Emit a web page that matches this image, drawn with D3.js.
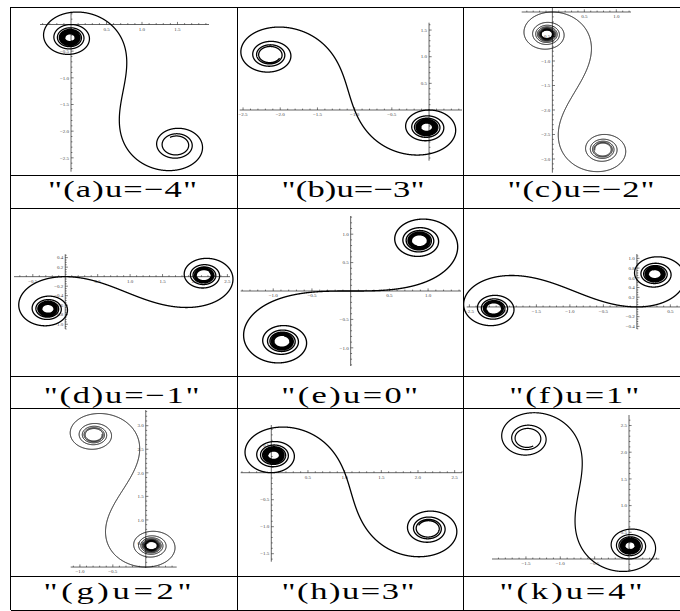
<!DOCTYPE html>
<html>
<head>
<meta charset="utf-8">
<script src="https://cdn.jsdelivr.net/npm/d3@7"></script>
<style>
  body { margin: 0; background: #fff; }
  svg { display: block; }
</style>
</head>
<body>
<svg id="fig" width="680" height="611"></svg>
<script>
// Generalised clothoid: heading angle theta(s) = s^2/2 + u*s, started at the origin
const uValues   = [-4, -3, -2, -1, 0, 1, 2, 3, 4];
const panelTags = ["a", "b", "c", "d", "e", "f", "g", "h", "k"];
const arcRange  = [-10, 10];

// Plot ranges (axis extents) of each panel
const xDomains = [
  [-0.437, 1.944], [-2.545, 0.443], [-0.48, 1.23],
  [-0.79, 2.54],   [-1.42, 1.425],  [-2.54, 0.79],
  [-1.14, 0.47],   [-0.417, 2.6],   [-1.994, 0.441]
];
const yDomains = [
  [-2.76, 0.24],   [-0.951, 1.638], [-3.28, 0.096],
  [-1.10, 0.47],   [-1.32, 1.32],   [-0.454, 1.09],
  [-0.02, 3.333],  [-1.648, 0.883], [-0.238, 2.697]
];
// Major tick spacing on each axis
const xTickSteps = [0.5, 0.5, 0.5, 0.5, 0.5, 0.5, 0.5, 0.5, 0.5];
const yTickSteps = [0.5, 0.5, 0.5, 0.2, 0.5, 0.2, 0.5, 0.5, 0.5];

// ---- page layout ----
const colEdges = [10.5, 237, 463];
const rowEdges = [7, 175, 208, 376, 408, 576, 610];
const rightEdge = 680;
const labelBaselines = [197, 403, 599];
// pixel box [left, top, right, bottom] spanned by each panel's axes
const plotBoxes = [
  [40, 11.7, 209, 171.7],   [239.7, 22.7, 462, 160.7], [521.7, 7.3, 631, 172.7],
  [14, 254.3, 230, 329],    [240.7, 216, 461, 366],    [466.7, 254, 689.8, 329],
  [70.7, 410, 176.7, 568],  [240.7, 425, 462, 561.7],  [492, 415, 659.3, 571.7]
];
const labelCenters = [122.5, 353, 581, 121.7, 349.7, 574.3, 117.5, 348, 571];
const labelWidths  = [149, 143, 147, 156, 137, 130, 148, 133, 143];
const labelStretch = 1.5;
const curveWidths  = [1.25, 1.3, 1.0, 1.3, 1.35, 1.3, 1.0, 1.3, 1.2];

const svg = d3.select("#fig");
const minus = s => s.replace("-", "\u2212");
const fmt = v => minus(d3.format(".1f")(v));

// integrate the curve outwards from s = 0 in both directions
function clothoid(u) {
  const ds = 0.002;
  const theta = s => s * s / 2 + u * s;
  const fwd = [[0, 0]], bwd = [];
  let x = 0, y = 0;
  const n = Math.round(arcRange[1] / ds);
  for (let i = 0; i < n; i++) {
    const sm = (i + 0.5) * ds;
    x += ds * Math.cos(theta(sm));
    y += ds * Math.sin(theta(sm));
    fwd.push([x, y]);
  }
  x = 0; y = 0;
  const m = Math.round(-arcRange[0] / ds);
  for (let i = 0; i < m; i++) {
    const sm = -(i + 0.5) * ds;
    x -= ds * Math.cos(theta(sm));
    y -= ds * Math.sin(theta(sm));
    bwd.push([x, y]);
  }
  return bwd.reverse().concat(fwd);
}

const defs = svg.append("defs");
const cellRight = c => (c < 2 ? colEdges[c + 1] : rightEdge);

uValues.forEach((u, i) => {
  const col = i % 3, row = Math.floor(i / 3);
  const [bl, bt, br, bb] = plotBoxes[i];
  const x = d3.scaleLinear().domain(xDomains[i]).range([bl, br]);
  const y = d3.scaleLinear().domain(yDomains[i]).range([bb, bt]);

  const cellTop = rowEdges[row * 2], cellBot = rowEdges[row * 2 + 1];
  const clipId = "clip" + i;
  defs.append("clipPath").attr("id", clipId)
    .append("rect")
    .attr("x", colEdges[col]).attr("y", cellTop)
    .attr("width", cellRight(col) - colEdges[col])
    .attr("height", cellBot - cellTop);

  const g = svg.append("g").attr("clip-path", `url(#${clipId})`);
  const x0 = x(0), y0 = y(0);

  // axes lines
  g.append("line").attr("x1", bl).attr("x2", br).attr("y1", y0).attr("y2", y0)
    .attr("stroke", "#222").attr("stroke-width", 0.7);
  g.append("line").attr("x1", x0).attr("x2", x0).attr("y1", bt).attr("y2", bb)
    .attr("stroke", "#222").attr("stroke-width", 0.7);

  // major and minor ticks
  function tickSet(domain, step) {
    const minorDiv = step === 0.2 ? 4 : 5;
    const mstep = step / minorDiv;
    const lo = Math.ceil(domain[0] / mstep - 1e-6), hi = Math.floor(domain[1] / mstep + 1e-6);
    const out = [];
    for (let k = lo; k <= hi; k++) {
      if (k === 0) continue;
      out.push({ v: k * mstep, major: k % minorDiv === 0 });
    }
    return out;
  }
  const xt = tickSet(xDomains[i], xTickSteps[i]);
  const yt = tickSet(yDomains[i], yTickSteps[i]);

  g.selectAll(null).data(xt).join("line")
    .attr("x1", d => x(d.v)).attr("x2", d => x(d.v))
    .attr("y1", y0).attr("y2", d => y0 - (d.major ? 2.6 : 1.4))
    .attr("stroke", "#222").attr("stroke-width", 0.6);
  g.selectAll(null).data(yt).join("line")
    .attr("y1", d => y(d.v)).attr("y2", d => y(d.v))
    .attr("x1", x0).attr("x2", d => x0 + (d.major ? 2.6 : 1.4))
    .attr("stroke", "#222").attr("stroke-width", 0.6);

  g.selectAll(null).data(xt.filter(d => d.major)).join("text")
    .attr("x", d => x(d.v)).attr("y", y0 + 6)
    .attr("text-anchor", "middle")
    .attr("font-family", "'Liberation Serif', serif").attr("font-size", 5)
    .attr("fill", "#444")
    .text(d => fmt(d.v));
  g.selectAll(null).data(yt.filter(d => d.major)).join("text")
    .attr("x", x0 - 2).attr("y", d => y(d.v) + 1.7)
    .attr("text-anchor", "end")
    .attr("font-family", "'Liberation Serif', serif").attr("font-size", 5)
    .attr("fill", "#444")
    .text(d => fmt(d.v));

  // the curve
  const line = d3.line().x(d => x(d[0])).y(d => y(d[1]));
  g.append("path")
    .attr("d", line(clothoid(u)))
    .attr("fill", "none").attr("stroke", "#000")
    .attr("stroke-width", curveWidths[i])
    .attr("stroke-linejoin", "round");

  // caption, widened horizontally
  svg.append("text")
    .attr("transform", `translate(${labelCenters[i]},${labelBaselines[row]}) scale(${labelStretch},1)`)
    .attr("text-anchor", "middle")
    .attr("font-family", "'Liberation Serif', serif")
    .attr("font-size", 23)
    .attr("textLength", labelWidths[i] / labelStretch)
    .attr("lengthAdjust", "spacing")
    .text(`"(${panelTags[i]})u=${minus(String(u))}"`);
});

// table rules
const rules = svg.append("g").attr("stroke", "#000").attr("stroke-width", 1).attr("shape-rendering", "crispEdges");
rowEdges.forEach(yv => {
  rules.append("line").attr("x1", colEdges[0]).attr("x2", rightEdge).attr("y1", yv).attr("y2", yv);
});
colEdges.forEach(xv => {
  rules.append("line").attr("x1", xv).attr("x2", xv).attr("y1", rowEdges[0]).attr("y2", rowEdges[6]);
});
</script>
</body>
</html>
